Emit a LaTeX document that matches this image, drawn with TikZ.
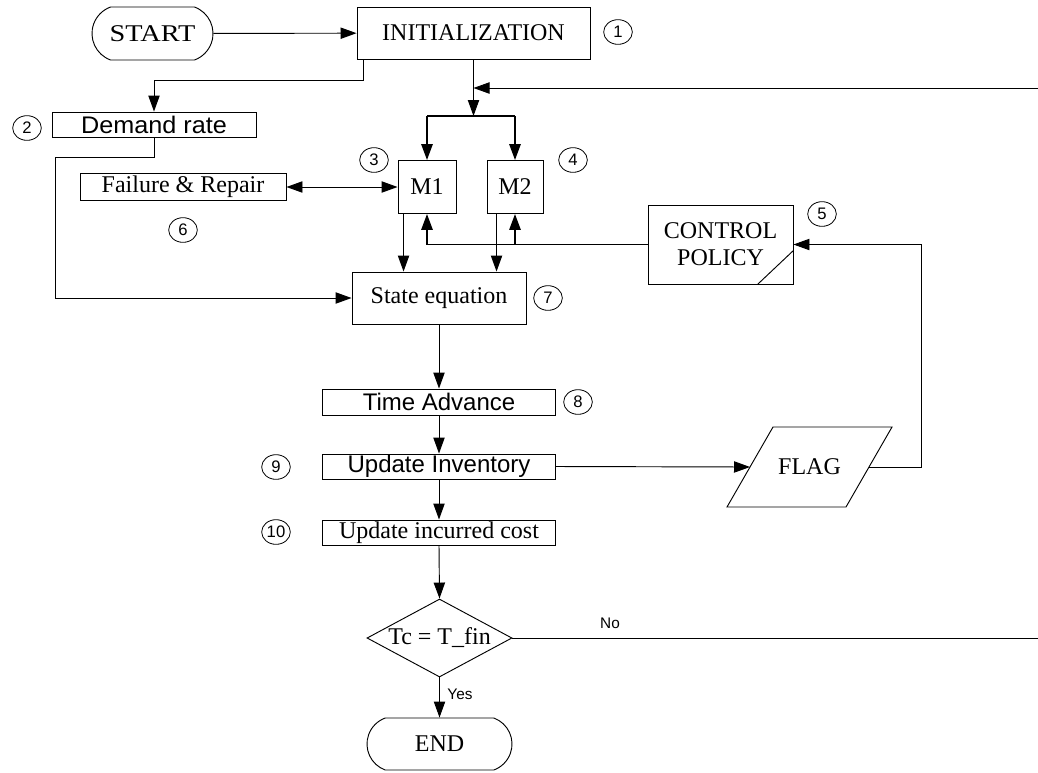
\documentclass[tikz,border=0pt]{standalone}
\usepackage{fontspec}
\setmainfont{Liberation Serif}
\newfontfamily\sansf{Liberation Sans}
\usetikzlibrary{shapes.geometric,shapes.misc,arrows.meta}
\begin{document}
\begin{tikzpicture}[x=0.75pt,y=-0.75pt,
  line/.style={line width=0.7pt},
  arr/.style={line, -{Triangle[length=12pt,width=8.5pt]}},
  arrtwo/.style={line, {Triangle[length=12pt,width=8.5pt]}-{Triangle[length=12pt,width=8.5pt]}},
  thickarr/.style={line width=1.4pt, -{Triangle[length=12pt,width=8.5pt]}},
  box/.style={draw, line width=0.7pt, rectangle, inner sep=0pt, font=\fontsize{18}{20.25}\selectfont},
  sbox/.style={box, font=\sansf\fontsize{18}{20}\selectfont},
  term/.style={draw, line width=0.7pt, rounded rectangle, rounded rectangle arc length=140, inner sep=0pt, font=\fontsize{18}{20}\selectfont},
  num/.style={draw, line width=0.6pt, ellipse, inner sep=0pt, minimum width=21.5pt, minimum height=18.5pt, font=\sansf\fontsize{12.5}{13}\selectfont},
  lbl/.style={inner sep=0pt, font=\sansf\fontsize{11.5}{12}\selectfont}
]
\useasboundingbox (0,0) rectangle (1038,772);

% nodes
\node[term, minimum width=90.75pt, minimum height=39.75pt] (start) at (152.5,33.5) {\scalebox{1.18}[1]{START}};
\node[box, minimum width=174.75pt, minimum height=39pt] (init) at (473.5,33) {INITIALIZATION};
\node[num] (n1) at (618,32) {1};
\node[sbox, minimum width=153pt, minimum height=18.75pt] (demand) at (154,124.5) {\scalebox{1.05}[1]{Demand rate}};
\node[num] (n2) at (27,128) {2};
\node[box, minimum width=43.5pt, minimum height=39.75pt] (m1) at (427,187) {M1};
\node[box, minimum width=42pt, minimum height=39.75pt] (m2) at (515,187) {M2};
\node[num] (n3) at (374,160) {3};
\node[num] (n4) at (573,160) {4};
\node[box, minimum width=154.5pt, minimum height=20.25pt] (fail) at (183,187) {Failure \& Repair};
\node[num] (n6) at (183,230) {6};
\node[box, minimum width=108.75pt, minimum height=59.25pt, align=center] (ctrl) at (720.5,244.5) {CONTROL\\POLICY};
\node[num] (n5) at (822,214) {5};
\node[box, minimum width=130.5pt, minimum height=39pt] (state) at (439,298) {State equation};
\node[num] (n7) at (548,298) {7};
\node[sbox, minimum width=174.75pt, minimum height=19.5pt] (time) at (439,402) {Time Advance};
\node[num] (n8) at (578,402) {8};
\node[sbox, minimum width=174.75pt, minimum height=18.75pt] (inv) at (439,466.5) {Update Inventory};
\node[num] (n9) at (276,467) {9};
\node[box, minimum width=174.75pt, minimum height=18.75pt] (cost) at (439,532.5) {Update incurred cost};
\node[num] (n10) at (276,532) {10};

% FLAG parallelogram
\draw[line] (727,507) -- (773,427) -- (892,427) -- (846,507) -- cycle;
\node[inner sep=0pt, font=\fontsize{18}{20}\selectfont] (flag) at (809.5,467) {FLAG};
\coordinate (flagL) at (750,467);
\coordinate (flagR) at (869,467);

\node[draw, line width=0.7pt, diamond, aspect=1.86, inner sep=0pt, minimum width=108.75pt, minimum height=58.5pt, font=\fontsize{18}{20}\selectfont] (dia) at (439.5,638) {Tc = T\_fin};
\node[term, minimum width=108.75pt, minimum height=39pt] (end) at (439.5,744) {END};

\node[lbl] (no) at (610,623) {No};
\node[lbl] (yes) at (460,694) {Yes};

% control policy slash
\draw[line] ([xshift=-27pt]ctrl.south east) -- ([yshift=25.5pt]ctrl.south east);

% helper coordinates
\coordinate (jn) at (473.5,116);
\coordinate (rtop) at (1038,88);
\coordinate (rbot) at (1038,638);
\coordinate (dcorner) at (55,298);
\coordinate (fc) at (921,467);
\coordinate (m1o) at ([xshift=4.5pt]m1.south west);
\coordinate (m2o) at ([xshift=7.5pt]m2.south west);

% connectors
\draw[arr] (start) -- (init);
\draw[arr] ([xshift=5.25pt]init.south west) -- ++(0,21) -| (demand.north);
\draw[arr] (init.south) -- (jn);
\draw[arr] (rtop) -- (init.south |- rtop);
\draw[line width=1.4pt] (m1.north |- jn) -- (m2.north |- jn);
\draw[thickarr] (m1.north |- jn) -- (m1.north);
\draw[thickarr] (m2.north |- jn) -- (m2.north);
\draw[arr] (demand.south) -- ++(0,20) -| (dcorner) -- (state.west);
\draw[arrtwo] (fail.east) -- (m1.west);
\draw[arr] (m1o) -- (m1o |- state.north);
\draw[arr] (m2o) -- (m2o |- state.north);
\draw[thickarr] (ctrl.west) -| (m1.south);
\draw[thickarr] (ctrl.west -| m2.south) -- (m2.south);
\draw[arr] (state.south) -- (time.north);
\draw[arr] (time.south) -- (inv.north);
\draw[arr] (inv.south) -- (cost.north);
\draw[arr] (inv.east) -- (flagL);
\draw[arr] (flagR) -- (fc) |- (ctrl.east);
\draw[arr] (cost.south) -- (dia.north);
\draw[arr] (dia.south) -- (end.north);
\draw[line] (dia.east) -- (rbot);
\end{tikzpicture}
\end{document}
